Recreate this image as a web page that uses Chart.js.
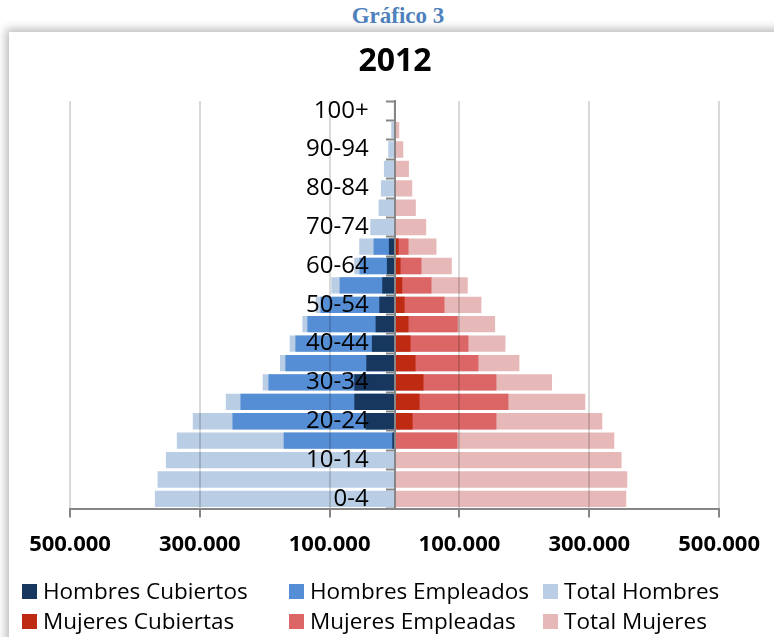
<!DOCTYPE html>
<html>
<head>
<meta charset="utf-8">
<script src="https://cdn.jsdelivr.net/npm/chart.js@4.4.1/dist/chart.umd.min.js"></script>
<style>
  html, body { margin: 0; padding: 0; background: #fff; width: 774px; height: 637px; overflow: hidden; }
  #heading { position: absolute; left: 0; top: 2px; width: 796px; height: 28px; line-height: 28px; text-align: center;
    font-family: "Liberation Serif", serif; font-weight: bold; font-size: 23px; color: #4F81BD; }
  #box { position: absolute; left: 9px; top: 32px; width: 820px; height: 640px; background: #fff;
    box-shadow: 0 0 9px 3px rgba(0,0,0,0.28); }
  #chart { position: absolute; left: 9px; top: 32px; }
  .lg { position: absolute; font-family: "Open Sans", sans-serif; font-size: 22.5px; color: #000; height: 30px; line-height: 30px; white-space: nowrap; }
  .sw { position: absolute; width: 15px; height: 15px; }
</style>
</head>
<body>
<div id="heading">Gráfico 3</div>
<div id="box"></div>
<canvas id="chart" width="765" height="605"></canvas>
<div id="legend"></div>
<script>
const categories = ['0-4','5-9','10-14','15-19','20-24','25-29','30-34','35-39','40-44','45-49','50-54','55-59','60-64','65-69','70-74','75-79','80-84','85-89','90-94','95-99','100+'];

const hombresCubiertos = [0, 0, 0, 3500, 44600, 62000, 62000, 43500, 34900, 29200, 23500, 19000, 11800, 8700, 0, 0, 0, 0, 0, 0, 0];
const hombresEmpleados = [0, 0, 0, 170800, 249700, 237400, 194300, 168200, 152800, 134300, 114000, 84600, 54000, 32300, 0, 0, 0, 0, 0, 0, 0];
const totalHombres = [369200, 365100, 352300, 335400, 310800, 260000, 203100, 176500, 161500, 142000, 121500, 97400, 62000, 54400, 37400, 24600, 21000, 16400, 9700, 5100, 1200];

const mujeresCubiertas = [0, 0, 0, 1500, 27700, 38500, 44600, 32300, 24600, 21500, 15400, 11800, 9200, 6200, 0, 0, 0, 0, 0, 0, 0];
const mujeresEmpleadas = [0, 0, 0, 96900, 156900, 175400, 156900, 129200, 113800, 97400, 76900, 56900, 41500, 21500, 0, 0, 0, 0, 0, 0, 0];
const totalMujeres = [356900, 358500, 349700, 338500, 320000, 293800, 242600, 192300, 170800, 154900, 133800, 112800, 88200, 64600, 48700, 32800, 27200, 22100, 13400, 7200, 2000];

const seriesNames = ['Hombres Cubiertos', 'Hombres Empleados', 'Total Hombres', 'Mujeres Cubiertas', 'Mujeres Empleadas', 'Total Mujeres'];
const seriesColors = ['#17375E', '#558ED5', '#B9CDE5', '#BE2A12', '#DC6666', '#E6B9B8'];

const neg = a => a.map(v => -v);
const fmt = n => String(Math.round(n)).replace(/\B(?=(\d{3})+(?!\d))/g, '.');

const seriesData = [neg(hombresCubiertos), neg(hombresEmpleados), neg(totalHombres), mujeresCubiertas, mujeresEmpleadas, totalMujeres];

const datasets = seriesNames.map((name, i) => ({
  label: name,
  data: seriesData[i],
  backgroundColor: seriesColors[i],
  borderWidth: 0,
  grouped: false,
  barPercentage: 0.84,
  categoryPercentage: 1.0,
  yAxisID: 'y'
}));

new Chart(document.getElementById('chart'), {
  type: 'bar',
  data: { labels: categories, datasets },
  options: {
    indexAxis: 'y',
    responsive: false,
    animation: false,
    devicePixelRatio: 1,
    layout: { padding: { left: 61, right: 54, top: 11, bottom: 65 } },
    plugins: {
      legend: { display: false },
      tooltip: { callbacks: { label: c => c.dataset.label + ': ' + fmt(Math.abs(c.raw)) } },
      title: {
        display: true, text: '2012', color: '#000',
        font: { family: 'Open Sans', weight: 'bold', size: 32, lineHeight: 1.2 },
        padding: { top: 0, bottom: 19.6 }
      }
    },
    scales: {
      x: {
        type: 'linear', min: -500000, max: 500000,
        ticks: {
          stepSize: 200000, autoSkip: false, maxRotation: 0, padding: 14, color: '#000',
          font: { family: 'Open Sans', weight: 'bold', size: 22, lineHeight: 1.2 },
          callback: v => fmt(Math.abs(v))
        },
        grid: { z: 1, color: 'rgba(0,0,0,0.15)', lineWidth: 2, tickLength: 9, tickColor: '#868686', tickWidth: 2 },
        border: { z: 1, color: '#868686', width: 2 }
      },
      y: {
        type: 'category', reverse: true, position: { x: 0 }, offset: true,
        grid: { z: 1, drawOnChartArea: false, offset: true, tickLength: 8, tickColor: '#868686', tickWidth: 2 },
        border: { z: 2, color: '#868686', width: 2 },
        ticks: { display: false, autoSkip: false }
      },
      yLabels: {
        type: 'category', reverse: true, position: { x: -40000 }, offset: true, axis: 'y',
        grid: { display: false },
        border: { display: false },
        ticks: {
          z: 3, autoSkip: false, padding: 0, color: '#000',
          font: { family: 'Open Sans', size: 24 },
          callback: (v, i) => (i % 2 === 0 ? categories[i] : '')
        }
      }
    }
  }
});

// HTML legend built from series names/colours
const legend = document.getElementById('legend');
const colX = [22, 289, 543];
const rowY = [576, 606];
seriesNames.forEach((name, i) => {
  const col = i % 3, row = Math.floor(i / 3);
  const sw = document.createElement('div');
  sw.className = 'sw';
  sw.style.left = colX[col] + 'px';
  sw.style.top = (rowY[row] + 8) + 'px';
  sw.style.background = seriesColors[i];
  legend.appendChild(sw);
  const t = document.createElement('div');
  t.className = 'lg';
  t.style.left = (colX[col] + 21) + 'px';
  t.style.top = rowY[row] + 'px';
  t.textContent = name;
  legend.appendChild(t);
});
</script>
</body>
</html>
